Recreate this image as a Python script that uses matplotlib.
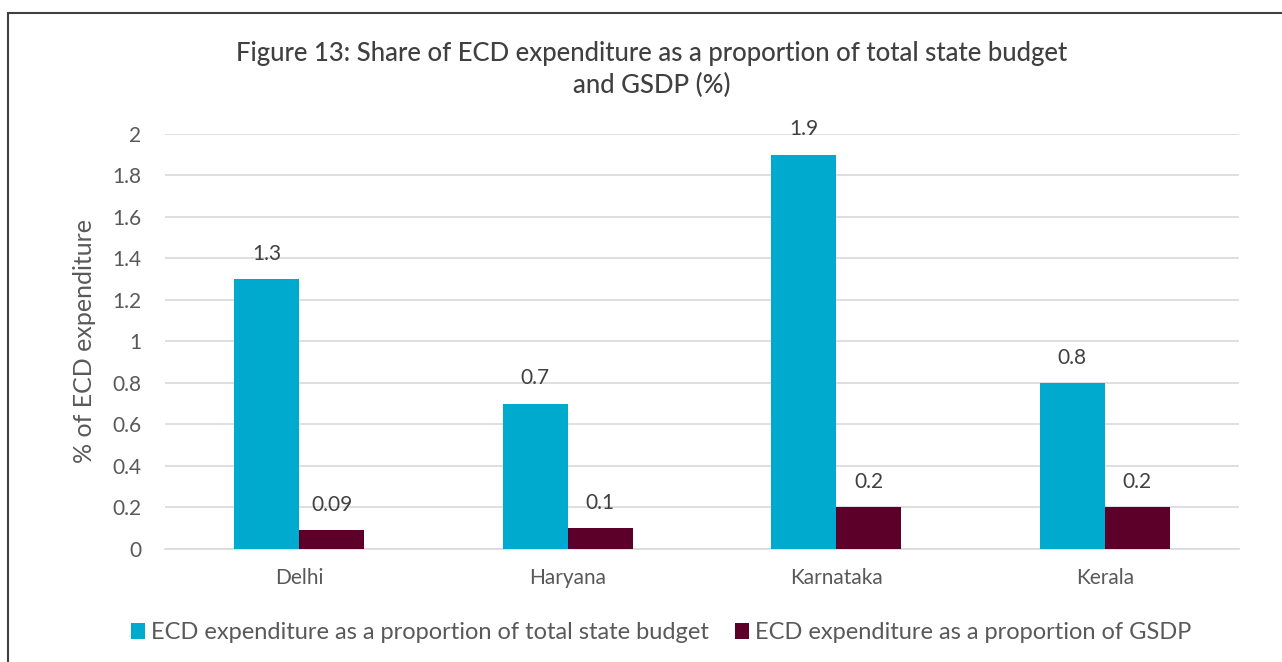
import numpy as np
import matplotlib.pyplot as plt
from matplotlib.patches import Rectangle

states = ['Delhi', 'Haryana', 'Karnataka', 'Kerala']
share_budget = [1.3, 0.7, 1.9, 0.8]
share_gsdp = [0.09, 0.1, 0.2, 0.2]
budget_labels = ['1.3', '0.7', '1.9', '0.8']
gsdp_labels = ['0.09', '0.1', '0.2', '0.2']
y_ticks = [0, 0.2, 0.4, 0.6, 0.8, 1, 1.2, 1.4, 1.6, 1.8, 2]
y_ticklabels = ['0', '0.2', '0.4', '0.6', '0.8', '1', '1.2', '1.4', '1.6', '1.8', '2']

plt.rcParams['font.family'] = ['Lato', 'DejaVu Sans']
text_grey = '#595959'
col_budget = '#00A9CE'
col_gsdp = '#5C0029'

fig = plt.figure(figsize=(12.82, 6.62), dpi=100)
ax = fig.add_axes([0.1287, 0.1707, 0.8378, 0.6269])

x = np.arange(len(states))
w = 0.242
b1 = ax.bar(x - w / 2, share_budget, w, color=col_budget, zorder=3,
            label='ECD expenditure as a proportion of total state budget')
b2 = ax.bar(x + w / 2, share_gsdp, w, color=col_gsdp, zorder=3,
            label='ECD expenditure as a proportion of GSDP')

for bars, labels in ((b1, budget_labels), (b2, gsdp_labels)):
    for bar, lab in zip(bars, labels):
        ax.annotate(lab, (bar.get_x() + bar.get_width() / 2, bar.get_height()),
                    xytext=(0, 11), textcoords='offset points',
                    ha='center', va='bottom', fontsize=15, color='#404040')

ax.set_xlim(-0.5, len(states) - 0.5)
ax.set_ylim(0, 2)
ax.set_yticks(y_ticks)
ax.set_yticklabels(y_ticklabels)
ax.set_xticks(x)
ax.set_xticklabels(states)
ax.tick_params(axis='both', length=0, labelsize=15, labelcolor=text_grey)
ax.tick_params(axis='y', pad=17)
ax.tick_params(axis='x', pad=14)
ax.yaxis.grid(True, color='#D9D9D9', lw=1.2, zorder=0)
for side in ('top', 'right', 'left'):
    ax.spines[side].set_visible(False)
ax.spines['bottom'].set_color('#D9D9D9')
ax.spines['bottom'].set_linewidth(1.2)

ax.set_ylabel('% of ECD expenditure', fontsize=18, color=text_grey, labelpad=12)

fig.text(0.5086, 0.895, 'Figure 13: Share of ECD expenditure as a proportion of total state budget\nand GSDP (%)',
         ha='center', va='center', fontsize=18.5, color='#404040', linespacing=1.35,
         fontweight='medium')

fig.legend(loc='center', bbox_to_anchor=(0.516, 0.044), ncol=2, frameon=False,
           fontsize=17, handlelength=0.6, handleheight=0.7, handletextpad=0.25,
           columnspacing=1.1, labelcolor=text_grey)

# outer frame, cut off at the right and bottom edges
fig.patches.append(Rectangle((8 / 1282, -0.1), 1.2, 1 - 13 / 662 + 0.1,
                             transform=fig.transFigure, fill=False,
                             edgecolor='#404040', lw=1.5))

fig.savefig('out.png', dpi=100)
